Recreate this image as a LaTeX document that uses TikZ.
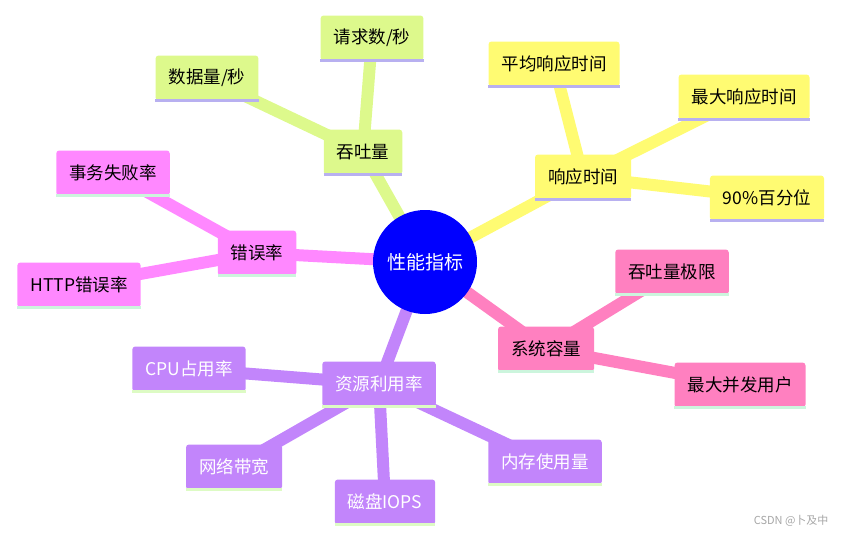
\documentclass[tikz,border=0pt]{standalone}
\usepackage{fontspec}
\setmainfont{Noto Sans CJK SC}
\usetikzlibrary{backgrounds}
\definecolor{cgreen}{HTML}{DDF98C}
\definecolor{cyellow}{HTML}{FFFB72}
\definecolor{cpink}{HTML}{FF80C0}
\definecolor{cpurple}{HTML}{C285FB}
\definecolor{cmag}{HTML}{FF88FF}
\definecolor{cline}{HTML}{B8B0F0}
\definecolor{cmint}{HTML}{CCF5DD}
\definecolor{clime}{HTML}{DDFBC4}
\begin{document}
\begin{tikzpicture}[x=1pt,y=-1pt,
		font=\fontsize{17.5}{20}\selectfont,
		topic/.style = {rounded corners=3pt, inner xsep=13pt, minimum height=45pt, text=#1},
		link/.style = {line width=12pt, draw=#1}]
		\useasboundingbox (0,0) rectangle (842,538);
		
		% nodes
		\node[topic=black,fill=cgreen] (tp) at (363,152) {吞吐量};
		\node[topic=black,fill=cgreen] (tp1) at (207,78) {数据量/秒};
		\node[topic=black,fill=cgreen] (tp2) at (372,38) {请求数/秒};
		\node[topic=black,fill=cyellow] (rt) at (583,177) {响应时间};
		\node[topic=black,fill=cyellow] (rt1) at (554,64) {平均响应时间};
		\node[topic=black,fill=cyellow] (rt2) at (744,97) {最大响应时间};
		\node[topic=black,fill=cyellow] (rt3) at (767,198) {90\%百分位};
		\node[topic=black,fill=cpink] (cap) at (546,349) {系统容量};
		\node[topic=black,fill=cpink] (cap1) at (672,272) {吞吐量极限};
		\node[topic=black,fill=cpink] (cap2) at (740,385) {最大并发用户};
		\node[topic=white,fill=cpurple] (res) at (379,384) {资源利用率};
		\node[topic=white,fill=cpurple] (res1) at (189,369) {CPU占用率};
		\node[topic=white,fill=cpurple] (res2) at (234,467) {网络带宽};
		\node[topic=white,fill=cpurple] (res3) at (385,502) {磁盘IOPS};
		\node[topic=white,fill=cpurple] (res4) at (545,462) {内存使用量};
		\node[topic=black,fill=cmag] (err) at (257,253) {错误率};
		\node[topic=black,fill=cmag] (err1) at (113,173) {事务失败率};
		\node[topic=black,fill=cmag] (err2) at (79,285) {HTTP错误率};
		\node[circle,fill=blue,text=white,minimum size=104pt,inner sep=0pt,
			font=\fontsize{19}{22}\selectfont] (c) at (425,262) {性能指标};
		
		% underlines
		\foreach \n in {tp,tp1,tp2,rt,rt1,rt2,rt3}
			\draw[cline,line width=3pt] (\n.south west) -- (\n.south east);
		\foreach \n in {cap,cap1,cap2,err,err1,err2}
			\draw[cmint,line width=3pt] (\n.south west) -- (\n.south east);
		\foreach \n in {res,res1,res2,res3,res4}
			\draw[clime,line width=3pt] (\n.south west) -- (\n.south east);
		
		% links
		\begin{scope}[on background layer]
			\draw[link=cgreen] (c.center) -- (tp.center) (tp1.center) -- (tp.center) -- (tp2.center);
			\draw[link=cyellow] (c.center) -- (rt.center) (rt1.center) -- (rt.center) -- (rt2.center) (rt.center) -- (rt3.center);
			\draw[link=cpink] (c.center) -- (cap.center) (cap1.center) -- (cap.center) -- (cap2.center);
			\draw[link=cpurple] (c.center) -- (res.center) (res1.center) -- (res.center) -- (res2.center)
				(res.center) -- (res3.center) (res.center) -- (res4.center);
			\draw[link=cmag] (c.center) -- (err.center) (err1.center) -- (err.center) -- (err2.center);
		\end{scope}
		
		\node[text=gray!70,font=\fontsize{11}{13}\selectfont,anchor=east] (wm) at (832,521) {CSDN @卜及中};
	\end{tikzpicture}
\end{document}
